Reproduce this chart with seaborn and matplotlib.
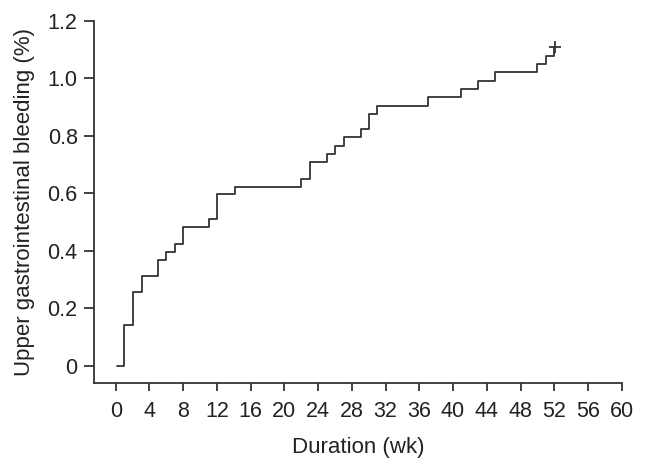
import numpy as np
import pandas as pd
import matplotlib
matplotlib.use("Agg")
import matplotlib.pyplot as plt
import seaborn as sns

# cumulative incidence steps (week, percent)
weeks = [0.2, 1.0, 2.1, 3.1, 5.0, 6.0, 7.0, 8.0, 11.1, 12.0, 14.1, 22.0, 23.0,
         25.0, 26.0, 27.1, 29.1, 30.0, 31.0, 37.0, 41.0, 43.0, 45.0, 50.0,
         51.0, 52.0]
bleeding = [0.0, 0.143, 0.256, 0.313, 0.370, 0.397, 0.425, 0.482, 0.512,
            0.596, 0.622, 0.651, 0.708, 0.738, 0.766, 0.796, 0.824, 0.875,
            0.904, 0.936, 0.962, 0.991, 1.022, 1.050, 1.077, 1.110]
censor_week = [52.1]
censor_value = [1.110]

x_ticks = list(range(0, 61, 4))
y_ticks = [0, 0.2, 0.4, 0.6, 0.8, 1.0, 1.2]
y_ticklabels = ["0", "0.2", "0.4", "0.6", "0.8", "1.0", "1.2"]

sns.set_style("ticks")
plt.rcParams["font.family"] = ["Liberation Sans", "DejaVu Sans"]

df = pd.DataFrame({"week": weeks, "value": bleeding})

fig = plt.figure(figsize=(6.46, 4.69), dpi=100)
ax = fig.add_axes([0.146, 0.1834, 0.8164, 0.7725])

ink = "#333333"
sns.lineplot(data=df, x="week", y="value", drawstyle="steps-post",
             estimator=None, color=ink, linewidth=1.3, ax=ax)
ax.plot(censor_week, censor_value, marker="+", markersize=8,
        markeredgewidth=1.3, color=ink, linestyle="none")

ax.set_xlim(-2.54, 60)
ax.set_ylim(-0.059, 1.2)
ax.set_xticks(x_ticks)
ax.set_yticks(y_ticks)
ax.set_yticklabels(y_ticklabels)

for side in ["top", "right"]:
    ax.spines[side].set_visible(False)
for side in ["left", "bottom"]:
    ax.spines[side].set_color(ink)
    ax.spines[side].set_linewidth(1.3)

ax.tick_params(axis="y", length=7, width=1.3, color=ink, labelsize=15.5,
               labelcolor="#222222", pad=5)
ax.tick_params(axis="x", length=6, width=1.3, color=ink, labelsize=15.5,
               labelcolor="#222222", pad=7)

ax.set_xlabel("Duration (wk)", fontsize=16, color="#222222", labelpad=11)
ax.set_ylabel("Upper gastrointestinal bleeding (%)", fontsize=16,
              color="#222222", labelpad=9)

fig.savefig("out.png", dpi=100)
